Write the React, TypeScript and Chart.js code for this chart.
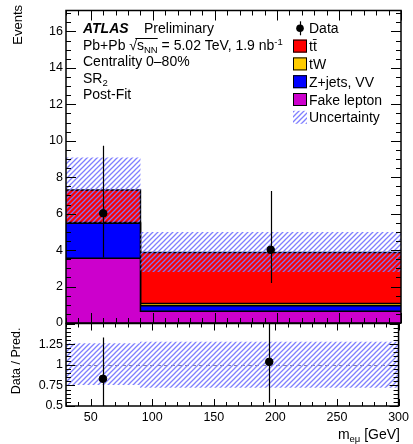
import React, { useEffect, useRef } from "react";
import { Chart, registerables } from "chart.js";

Chart.register(...registerables);

// ---------------- data ----------------
const BIN_EDGES = [30, 90, 300];
const FAKE_LEPTON = [3.55, 0.65];
const ZJETS_VV = [1.93, 0.3];
const TW = [0.03, 0.12];
const TTBAR = [1.79, 2.8];
const UNC_LOW = [5.52, 2.8];
const UNC_HIGH = [9.08, 4.99];
const DATA_X = [60, 195];
const DATA_Y = [6.02, 4.02];
const DATA_ERR_LOW = [3.6, 2.2];
const DATA_ERR_HIGH = [9.73, 7.25];
const RATIO_Y = [0.83, 1.035];
const RATIO_ERR_LOW = [0.49, 0.54];
const RATIO_ERR_HIGH = [1.33, 1.87];
const RATIO_UNC_LOW = [0.755, 0.72];
const RATIO_UNC_HIGH = [1.26, 1.28];
const Y_TICKS = [0, 2, 4, 6, 8, 10, 12, 14, 16];
const RATIO_TICKS = [0.5, 0.75, 1, 1.25];
const X_TICKS = [50, 100, 150, 200, 250, 300];
const LEGEND_LABELS = ["Data", "t\u0074\u0304", "tW", "Z+jets, VV", "Fake lepton", "Uncertainty"];

// ---------------- styles ----------------
const FONT = "'Liberation Sans', Arial, Helvetica, sans-serif";
const C_FAKE = "#cc00cc";
const C_Z = "#0000ff";
const C_TW = "#ffcc00";
const C_TT = "#ff0000";
const C_HATCH = "rgba(120,120,255,0.95)";

function fnt(size: number, style = "") {
  return `${style} ${size}px ${FONT}`.trim();
}

function stepPoints(vals: number[]) {
  const pts = vals.map((v, i) => ({ x: BIN_EDGES[i], y: v }));
  pts.push({ x: BIN_EDGES[BIN_EDGES.length - 1], y: vals[vals.length - 1] });
  return pts;
}

function cumulative(...arrs: number[][]) {
  return arrs[0].map((_, i) => arrs.reduce((s, a) => s + a[i], 0));
}

function makeHatch(ctx: CanvasRenderingContext2D) {
  const s = 5;
  const c = document.createElement("canvas");
  c.width = s;
  c.height = s;
  const g = c.getContext("2d")!;
  g.strokeStyle = C_HATCH;
  g.lineWidth = 1.3;
  g.beginPath();
  g.moveTo(-1, s + 1);
  g.lineTo(s + 1, -1);
  g.moveTo(-1, 1);
  g.lineTo(1, -1);
  g.moveTo(s - 1, s + 1);
  g.lineTo(s + 1, s - 1);
  g.stroke();
  return ctx.createPattern(c, "repeat")!;
}

type Seg = { t: string; size: number; style?: string; dy?: number };
function segsWidth(ctx: CanvasRenderingContext2D, segs: Seg[]) {
  let w = 0;
  for (const s of segs) {
    ctx.font = fnt(s.size, s.style || "");
    w += ctx.measureText(s.t).width;
  }
  return w;
}
function drawSegs(ctx: CanvasRenderingContext2D, x: number, y: number, segs: Seg[]) {
  ctx.textAlign = "left";
  ctx.textBaseline = "alphabetic";
  const xs: number[] = [];
  for (const s of segs) {
    ctx.font = fnt(s.size, s.style || "");
    xs.push(x);
    ctx.fillText(s.t, x, y + (s.dy || 0));
    x += ctx.measureText(s.t).width;
  }
  xs.push(x);
  return xs;
}

type TickCfg = {
  yMinor: number; yMajor: number; yMajLen: number; yMinLen: number;
  xMinor: number; xMajor: number; xMajLen: number; xMinLen: number;
};

function framePlugin(id: string, cfg: TickCfg) {
  return {
    id,
    afterDatasetsDraw(chart: any) {
      const ctx: CanvasRenderingContext2D = chart.ctx;
      const { left, right, top, bottom } = chart.chartArea;
      const xs = chart.scales.x;
      const ys = chart.scales.y;
      ctx.save();
      ctx.strokeStyle = "#000";
      ctx.lineWidth = 1;
      ctx.beginPath();
      const ny = Math.floor((ys.max - ys.min) / cfg.yMinor + 1e-6);
      for (let i = 0; i <= ny; i++) {
        const v = ys.min + i * cfg.yMinor;
        const r = v / cfg.yMajor;
        const major = Math.abs(r - Math.round(r)) < 1e-6;
        const len = major ? cfg.yMajLen : cfg.yMinLen;
        const py = Math.round(ys.getPixelForValue(v)) + 0.5;
        ctx.moveTo(left, py);
        ctx.lineTo(left + len, py);
        ctx.moveTo(right, py);
        ctx.lineTo(right - len, py);
      }
      const nx = Math.floor((xs.max - xs.min) / cfg.xMinor + 1e-6);
      for (let i = 0; i <= nx; i++) {
        const v = xs.min + i * cfg.xMinor;
        const r = v / cfg.xMajor;
        const major = Math.abs(r - Math.round(r)) < 1e-6;
        const len = major ? cfg.xMajLen : cfg.xMinLen;
        const px = Math.round(xs.getPixelForValue(v)) + 0.5;
        ctx.moveTo(px, bottom);
        ctx.lineTo(px, bottom - len);
        ctx.moveTo(px, top);
        ctx.lineTo(px, top + len);
      }
      ctx.stroke();
      ctx.lineWidth = 1.5;
      ctx.strokeRect(left, top, right - left, bottom - top);
      ctx.restore();
    },
  };
}

function errorBarPlugin(id: string, xsV: number[], lo: number[], hi: number[]) {
  return {
    id,
    afterDatasetsDraw(chart: any) {
      const ctx: CanvasRenderingContext2D = chart.ctx;
      const { left, right, top, bottom } = chart.chartArea;
      const xs = chart.scales.x;
      const ys = chart.scales.y;
      ctx.save();
      ctx.beginPath();
      ctx.rect(left, top, right - left, bottom - top);
      ctx.clip();
      ctx.strokeStyle = "#000";
      ctx.lineWidth = 1.2;
      ctx.beginPath();
      xsV.forEach((x, i) => {
        const px = Math.round(xs.getPixelForValue(x)) + 0.5;
        ctx.moveTo(px, ys.getPixelForValue(lo[i]));
        ctx.lineTo(px, ys.getPixelForValue(hi[i]));
      });
      ctx.stroke();
      ctx.restore();
    },
  };
}

export default function App() {
  const topRef = useRef<HTMLCanvasElement>(null);
  const botRef = useRef<HTMLCanvasElement>(null);

  useEffect(() => {
    const topCanvas = topRef.current!;
    const botCanvas = botRef.current!;
    const hatchTop = makeHatch(topCanvas.getContext("2d")!);
    const hatchBot = makeHatch(botCanvas.getContext("2d")!);

    const cumFake = FAKE_LEPTON;
    const cumZ = cumulative(FAKE_LEPTON, ZJETS_VV);
    const cumTW = cumulative(FAKE_LEPTON, ZJETS_VV, TW);
    const cumTT = cumulative(FAKE_LEPTON, ZJETS_VV, TW, TTBAR);

    const stackDs = (label: string, vals: number[], color: string, order: number) => ({
      label,
      data: stepPoints(vals),
      stepped: true,
      fill: "origin",
      backgroundColor: color,
      borderColor: "#000",
      borderWidth: 1.5,
      pointRadius: 0,
      order,
    });

    const textPlugin = {
      id: "texts",
      afterDraw(chart: any) {
        const ctx: CanvasRenderingContext2D = chart.ctx;
        ctx.save();
        ctx.fillStyle = "#000";
        // ATLAS label block
        const x0 = 83;
        drawSegs(ctx, x0, 33, [{ t: "ATLAS", size: 14, style: "italic bold" }]);
        drawSegs(ctx, 144, 33, [{ t: "Preliminary", size: 14 }]);
        const p = drawSegs(ctx, x0, 49.5, [
          { t: "Pb+Pb ", size: 14 },
          { t: "\u221A", size: 14 },
          { t: "s", size: 14 },
          { t: "NN", size: 9.5, dy: 3 },
          { t: " = 5.02 TeV, 1.9 nb", size: 14 },
          { t: "-1", size: 9.5, dy: -5 },
        ]);
        ctx.strokeStyle = "#000";
        ctx.lineWidth = 1;
        ctx.beginPath();
        ctx.moveTo(p[1] + 6, 38.5);
        ctx.lineTo(p[4], 38.5);
        ctx.stroke();
        drawSegs(ctx, x0, 66, [{ t: "Centrality 0\u201380%", size: 14 }]);
        drawSegs(ctx, x0, 82.5, [
          { t: "SR", size: 14 },
          { t: "2", size: 9.5, dy: 3 },
        ]);
        drawSegs(ctx, x0, 99, [{ t: "Post-Fit", size: 14 }]);

        // legend
        const rows = [28.3, 46.1, 63.9, 81.7, 99.5, 117.3];
        const fills = [null, C_TT, C_TW, C_Z, C_FAKE, hatchTop];
        rows.forEach((cy, i) => {
          if (i === 0) {
            ctx.beginPath();
            ctx.arc(300, cy, 3.8, 0, Math.PI * 2);
            ctx.fill();
            ctx.lineWidth = 1.2;
            ctx.beginPath();
            ctx.moveTo(300.5, cy - 7);
            ctx.lineTo(300.5, cy + 7);
            ctx.stroke();
          } else {
            ctx.fillStyle = fills[i] as any;
            ctx.fillRect(293, cy - 6.5, 14, 13);
            if (i < 5) {
              ctx.lineWidth = 1;
              ctx.strokeStyle = "#000";
              ctx.strokeRect(293.5, cy - 6, 13, 12);
            }
            ctx.fillStyle = "#000";
          }
          drawSegs(ctx, 309, cy + 5, [{ t: LEGEND_LABELS[i], size: 14 }]);
        });

        // y title
        ctx.save();
        ctx.translate(22, 5);
        ctx.rotate(-Math.PI / 2);
        ctx.font = fnt(13);
        ctx.textAlign = "right";
        ctx.textBaseline = "alphabetic";
        ctx.fillText("Events", 0, 0);
        ctx.restore();
        ctx.restore();
      },
    };

    const topChart = new Chart(topCanvas, {
      type: "line",
      data: {
        datasets: [
          {
            type: "scatter",
            label: "Data",
            data: DATA_X.map((x, i) => ({ x, y: DATA_Y[i] })),
            pointRadius: 3.8,
            pointBackgroundColor: "#000",
            pointBorderColor: "#000",
            showLine: false,
            order: 0,
          } as any,
          {
            label: "unc-low",
            data: stepPoints(UNC_LOW),
            stepped: true,
            fill: false,
            borderWidth: 0,
            borderColor: "transparent",
            pointRadius: 0,
            order: 1,
          },
          {
            label: "Uncertainty",
            data: stepPoints(UNC_HIGH),
            stepped: true,
            fill: "-1",
            backgroundColor: hatchTop,
            borderWidth: 0,
            borderColor: "transparent",
            pointRadius: 0,
            order: 1,
          },
          stackDs("Fake lepton", cumFake, C_FAKE, 2),
          stackDs("Z+jets, VV", cumZ, C_Z, 3),
          stackDs("tW", cumTW, C_TW, 4),
          stackDs("ttbar", cumTT, C_TT, 5),
        ] as any,
      },
      options: {
        responsive: false,
        animation: false,
        devicePixelRatio: 1,
        layout: { padding: { top: 9, right: 12, bottom: 17, left: 0 } },
        plugins: { legend: { display: false }, tooltip: { enabled: false } },
        scales: {
          x: { type: "linear", min: 30, max: 300, display: false },
          y: {
            type: "linear",
            min: 0,
            max: 17.15,
            afterFit: (s: any) => { s.width = 66; },
            afterBuildTicks: (s: any) => { s.ticks = Y_TICKS.map((v) => ({ value: v })); },
            ticks: {
              padding: 3,
              color: "#000",
              autoSkip: false,
              font: { family: FONT, size: 12.5 },
              callback: (v: any) => String(v),
            },
            grid: { display: false, drawTicks: false },
            border: { display: false },
          },
        },
      } as any,
      plugins: [
        framePlugin("frameTop", { yMinor: 0.5, yMajor: 2, yMajLen: 10, yMinLen: 5, xMinor: 10, xMajor: 50, xMajLen: 10, xMinLen: 5 }),
        errorBarPlugin("errTop", DATA_X, DATA_ERR_LOW, DATA_ERR_HIGH),
        textPlugin,
      ] as any,
    });

    const ratioPlugin = {
      id: "ratioExtras",
      beforeDatasetsDraw(chart: any) {
        const ctx: CanvasRenderingContext2D = chart.ctx;
        const { left, right } = chart.chartArea;
        const py = Math.round(chart.scales.y.getPixelForValue(1)) + 0.5;
        ctx.save();
        ctx.strokeStyle = "#8a8a9a";
        ctx.lineWidth = 1;
        ctx.setLineDash([4, 3]);
        ctx.beginPath();
        ctx.moveTo(left, py);
        ctx.lineTo(right, py);
        ctx.stroke();
        ctx.restore();
      },
      afterDraw(chart: any) {
        const ctx: CanvasRenderingContext2D = chart.ctx;
        ctx.save();
        ctx.fillStyle = "#000";
        const segs: Seg[] = [
          { t: "m", size: 14 },
          { t: "e\u03BC", size: 9.5, dy: 3 },
          { t: " [GeV]", size: 14 },
        ];
        const w = segsWidth(ctx, segs);
        drawSegs(ctx, 400 - w, 126, segs);
        ctx.translate(19.5, 48);
        ctx.rotate(-Math.PI / 2);
        ctx.font = fnt(12.5);
        ctx.textAlign = "center";
        ctx.textBaseline = "alphabetic";
        ctx.fillText("Data / Pred.", 0, 0);
        ctx.restore();
      },
    };

    const botChart = new Chart(botCanvas, {
      type: "line",
      data: {
        datasets: [
          {
            type: "scatter",
            label: "Ratio",
            data: DATA_X.map((x, i) => ({ x, y: RATIO_Y[i] })),
            pointRadius: 3.8,
            pointBackgroundColor: "#000",
            pointBorderColor: "#000",
            showLine: false,
            order: 0,
          } as any,
          {
            label: "r-unc-low",
            data: stepPoints(RATIO_UNC_LOW),
            stepped: true,
            fill: false,
            borderWidth: 0,
            borderColor: "transparent",
            pointRadius: 0,
            order: 1,
          },
          {
            label: "r-unc-high",
            data: stepPoints(RATIO_UNC_HIGH),
            stepped: true,
            fill: "-1",
            backgroundColor: hatchBot,
            borderWidth: 0,
            borderColor: "transparent",
            pointRadius: 0,
            order: 1,
          },
        ] as any,
      },
      options: {
        responsive: false,
        animation: false,
        devicePixelRatio: 1,
        layout: { padding: { top: 10, right: 12, bottom: 0, left: 0 } },
        plugins: { legend: { display: false }, tooltip: { enabled: false } },
        scales: {
          x: {
            type: "linear",
            min: 30,
            max: 300,
            afterFit: (s: any) => { s.height = 38; },
            afterBuildTicks: (s: any) => { s.ticks = X_TICKS.map((v) => ({ value: v })); },
            ticks: {
              padding: 4,
              color: "#000",
              autoSkip: false,
              maxRotation: 0,
              font: { family: FONT, size: 12.5 },
              callback: (v: any) => String(v),
            },
            grid: { display: false, drawTicks: false },
            border: { display: false },
          },
          y: {
            type: "linear",
            min: 0.5,
            max: 1.5,
            afterFit: (s: any) => { s.width = 66; },
            afterBuildTicks: (s: any) => { s.ticks = RATIO_TICKS.map((v) => ({ value: v })); },
            ticks: {
              padding: 3,
              color: "#000",
              autoSkip: false,
              font: { family: FONT, size: 12.5 },
              callback: (v: any) => String(v),
            },
            grid: { display: false, drawTicks: false },
            border: { display: false },
          },
        },
      } as any,
      plugins: [
        ratioPlugin,
        framePlugin("frameBot", { yMinor: 0.05, yMajor: 0.25, yMajLen: 9, yMinLen: 5, xMinor: 10, xMajor: 50, xMajLen: 7, xMinLen: 4 }),
        errorBarPlugin("errBot", DATA_X, RATIO_ERR_LOW, RATIO_ERR_HIGH),
      ] as any,
    });

    return () => {
      topChart.destroy();
      botChart.destroy();
    };
  }, []);

  return (
    <div style={{ position: "absolute", left: 0, top: 0, width: 413, height: 444, background: "#fff" }}>
      <canvas ref={topRef} width={413} height={340} style={{ position: "absolute", left: 0, top: 0 }} />
      <canvas ref={botRef} width={413} height={131} style={{ position: "absolute", left: 0, top: 313 }} />
    </div>
  );
}
